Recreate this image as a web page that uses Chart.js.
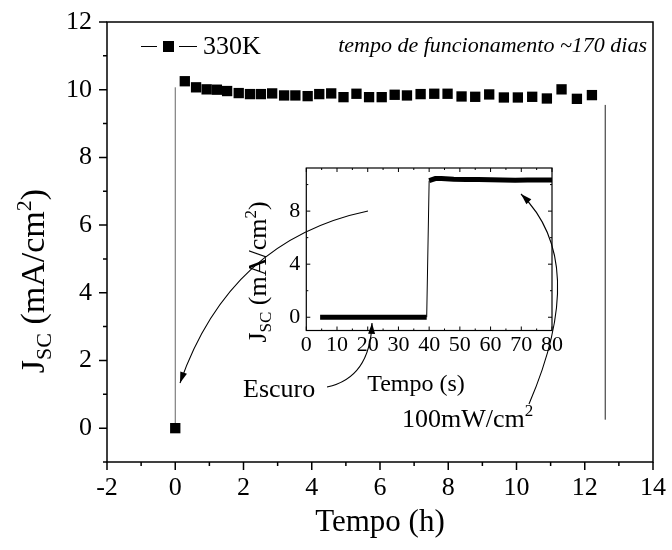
<!DOCTYPE html>
<html lang="pt">
<head>
<meta charset="UTF-8">
<title>Jsc em função do tempo</title>
<style>
  body { margin: 0; background: #fff; }
  #quadro { position: relative; width: 672px; height: 550px; }
  #quadro canvas { position: absolute; left: 0; top: 0; }
</style>
</head>
<body>
<div id="quadro">
  <canvas id="principal" width="672" height="550"></canvas>
  <canvas id="detalhe" width="672" height="550"></canvas>
</div>
<script src="https://cdn.jsdelivr.net/npm/chart.js"></script>
<script>
// dados do gráfico principal (tempo em horas)
const tempoH = [0, 0.28, 0.61, 0.92, 1.22, 1.52, 1.86, 2.19, 2.51, 2.84, 3.19, 3.52, 3.88, 4.22, 4.57, 4.93, 5.31,
  5.68, 6.05, 6.43, 6.79, 7.19, 7.59, 7.98, 8.39, 8.79, 9.20, 9.63, 10.04, 10.46, 10.89, 11.32, 11.77, 12.21];
const jscH = [0, 10.25, 10.07, 10.01, 10.00, 9.96, 9.90, 9.87, 9.87, 9.89, 9.83, 9.83, 9.81, 9.87, 9.89, 9.78, 9.88,
  9.78, 9.78, 9.85, 9.83, 9.87, 9.88, 9.88, 9.80, 9.79, 9.86, 9.77, 9.77, 9.79, 9.74, 10.01, 9.73, 9.84];
// linhas verticais de referência
const guiaEsqX = [0, 0];
const guiaEsqY = [0, 10.07];
const guiaDirX = [12.6, 12.6];
const guiaDirY = [0.25, 9.55];
// marcas dos eixos
const xTicksH = [-2, 0, 2, 4, 6, 8, 10, 12, 14];
const xMinorH = [-1, 1, 3, 5, 7, 9, 11, 13];
const yTicksH = [0, 2, 4, 6, 8, 10, 12];
const yMinorH = [-1, 1, 3, 5, 7, 9, 11];

// dados do detalhe (tempo em segundos)
const tempoS = [4.5, 10, 15, 20, 25, 30, 35, 39.2, 40, 42, 44, 48, 52, 56, 60, 64, 68, 72, 76, 80];
const jscS = [0, 0, 0, 0, 0, 0, 0, 0, 10.3, 10.45, 10.45, 10.4, 10.38, 10.38, 10.36, 10.35, 10.33, 10.35, 10.34, 10.35];
const xTicksS = [0, 10, 20, 30, 40, 50, 60, 70, 80];
const xMinorS = [5, 15, 25, 35, 45, 55, 65, 75];
const yTicksS = [0, 4, 8];
const yMinorS = [2, 6, 10];

const FAMILIA = '"Liberation Serif", "DejaVu Serif", serif';
Chart.defaults.font.family = FAMILIA;
Chart.defaults.color = '#000';

function pares(xs, ys) {
  return xs.map((x, i) => ({ x: x, y: ys[i] }));
}

// escreve texto com subscritos/sobrescritos: partes = [texto, tamanho, deslocamento]
function textoComposto(ctx, partes, x, y, centro) {
  let w = 0;
  partes.forEach(p => { ctx.font = p[1] + 'px ' + FAMILIA; w += ctx.measureText(p[0]).width; });
  let cx = centro ? x - w / 2 : x;
  ctx.textAlign = 'left';
  partes.forEach(p => {
    ctx.font = p[1] + 'px ' + FAMILIA;
    ctx.fillText(p[0], cx, y + p[2]);
    cx += ctx.measureText(p[0]).width;
  });
}

function seta(ctx, x0, y0, cx, cy, x1, y1) {
  ctx.beginPath();
  ctx.moveTo(x0, y0);
  ctx.quadraticCurveTo(cx, cy, x1, y1);
  ctx.stroke();
  const a = Math.atan2(y1 - cy, x1 - cx);
  const L = 11, W = 3.5;
  ctx.beginPath();
  ctx.moveTo(x1, y1);
  ctx.lineTo(x1 - L * Math.cos(a) + W * Math.sin(a), y1 - L * Math.sin(a) - W * Math.cos(a));
  ctx.lineTo(x1 - L * Math.cos(a) - W * Math.sin(a), y1 - L * Math.sin(a) + W * Math.cos(a));
  ctx.closePath();
  ctx.fill();
}

// marcas de escala: dir = +1 para fora, -1 para dentro
function marcas(ctx, escala, valores, comp, horizontal, base, dir) {
  ctx.beginPath();
  valores.forEach(v => {
    const p = escala.getPixelForValue(v);
    if (horizontal) { ctx.moveTo(p, base); ctx.lineTo(p, base + dir * comp); }
    else { ctx.moveTo(base, p); ctx.lineTo(base - dir * comp, p); }
  });
  ctx.stroke();
}

// tira o acolchoamento automático dos rótulos para controlar a área do gráfico
function semAcolchoamento(s) {
  s.paddingTop = 0; s.paddingBottom = 0; s.paddingLeft = 0; s.paddingRight = 0;
}

const extrasPrincipal = {
  id: 'extrasPrincipal',
  afterDraw(chart) {
    const ctx = chart.ctx, a = chart.chartArea;
    const sx = chart.scales.x, sy = chart.scales.y;
    ctx.save();
    ctx.strokeStyle = '#000';
    ctx.fillStyle = '#000';
    ctx.lineWidth = 1.5;
    ctx.strokeRect(a.left, a.top, a.right - a.left, a.bottom - a.top);
    marcas(ctx, sx, xTicksH, 8, true, a.bottom, 1);
    marcas(ctx, sx, xMinorH, 4, true, a.bottom, 1);
    marcas(ctx, sy, yTicksH, 8, false, a.left, 1);
    marcas(ctx, sy, yMinorH, 4, false, a.left, 1);

    // legenda
    ctx.lineWidth = 1;
    ctx.beginPath();
    ctx.moveTo(141, 46.5); ctx.lineTo(157, 46.5);
    ctx.moveTo(179, 46.5); ctx.lineTo(197, 46.5);
    ctx.stroke();
    ctx.fillRect(163, 41, 11, 11);
    ctx.textBaseline = 'middle';
    ctx.font = '26px ' + FAMILIA;
    ctx.textAlign = 'left';
    ctx.fillText('330K', 203, 47);

    ctx.font = 'italic 22px ' + FAMILIA;
    ctx.textAlign = 'right';
    ctx.fillText('tempo de funcionamento ~170 dias', 647, 46);

    // título do eixo x
    ctx.font = '31px ' + FAMILIA;
    ctx.textAlign = 'center';
    ctx.fillText('Tempo (h)', (a.left + a.right) / 2, 523);

    // título do eixo y
    ctx.textBaseline = 'alphabetic';
    ctx.translate(44, 281);
    ctx.rotate(-Math.PI / 2);
    textoComposto(ctx, [['J', 34, 0], ['SC', 22, 7], [' (mA/cm', 34, 0], ['2', 22, -13], [')', 34, 0]], 0, 0, true);
    ctx.restore();
  }
};

new Chart(document.getElementById('principal'), {
  type: 'line',
  data: {
    datasets: [
      {
        data: pares(tempoH, jscH), showLine: false, pointStyle: 'rect', pointRadius: 7.3,
        pointBorderWidth: 0, backgroundColor: '#000', borderColor: '#000', order: 1
      },
      {
        data: pares(guiaEsqX, guiaEsqY), borderColor: '#666', borderWidth: 1, pointRadius: 0, order: 2
      },
      {
        data: pares(guiaDirX, guiaDirY), borderColor: '#222', borderWidth: 1, pointRadius: 0, order: 2
      }
    ]
  },
  options: {
    responsive: false,
    animation: false,
    devicePixelRatio: 1,
    layout: { padding: { top: 22, right: 19, left: 0, bottom: 0 } },
    plugins: { legend: { display: false }, tooltip: { enabled: false } },
    scales: {
      x: {
        type: 'linear', min: -2, max: 14,
        grid: { display: false, drawTicks: false },
        border: { display: false },
        afterBuildTicks: s => { s.ticks = xTicksH.map(v => ({ value: v })); },
        afterFit: s => { s.height = 88; semAcolchoamento(s); },
        ticks: { font: { size: 26 }, color: '#000', padding: 11, maxRotation: 0, autoSkip: false }
      },
      y: {
        type: 'linear', min: -1, max: 12,
        grid: { display: false, drawTicks: false },
        border: { display: false },
        afterBuildTicks: s => { s.ticks = yTicksH.map(v => ({ value: v })); },
        afterFit: s => { s.width = 107; semAcolchoamento(s); },
        ticks: { font: { size: 26 }, color: '#000', padding: 15, autoSkip: false }
      }
    }
  },
  plugins: [extrasPrincipal]
});

const extrasDetalhe = {
  id: 'extrasDetalhe',
  afterDraw(chart) {
    const ctx = chart.ctx, a = chart.chartArea;
    const sx = chart.scales.x, sy = chart.scales.y;
    ctx.save();
    ctx.strokeStyle = '#000';
    ctx.fillStyle = '#000';
    ctx.lineWidth = 1.2;
    ctx.strokeRect(a.left, a.top, a.right - a.left, a.bottom - a.top);
    ctx.lineWidth = 1;
    marcas(ctx, sx, xTicksS, 4, true, a.bottom, -1);
    marcas(ctx, sx, xMinorS, 2, true, a.bottom, -1);
    marcas(ctx, sx, xTicksS, 4, true, a.top, 1);
    marcas(ctx, sx, xMinorS, 2, true, a.top, 1);
    marcas(ctx, sy, yTicksS, 4, false, a.left, -1);
    marcas(ctx, sy, yMinorS, 2, false, a.left, -1);
    marcas(ctx, sy, yTicksS, 4, false, a.right, 1);
    marcas(ctx, sy, yMinorS, 2, false, a.right, 1);

    ctx.textBaseline = 'middle';
    ctx.font = '24px ' + FAMILIA;
    ctx.textAlign = 'center';
    ctx.fillText('Tempo (s)', 416, 385);
    ctx.font = '26px ' + FAMILIA;
    ctx.textAlign = 'left';
    ctx.fillText('Escuro', 243, 390);
    ctx.textBaseline = 'alphabetic';
    textoComposto(ctx, [['100mW/cm', 26, 0], ['2', 17, -11]], 402, 427, false);

    // setas
    ctx.lineWidth = 1.1;
    seta(ctx, 327, 387, 370, 378, 372, 323);
    seta(ctx, 368, 211, 230, 240, 180, 383);
    seta(ctx, 529, 404, 590, 262, 521, 194);

    // título do eixo y do detalhe
    ctx.translate(266, 272);
    ctx.rotate(-Math.PI / 2);
    textoComposto(ctx, [['J', 26, 0], ['SC', 17, 5], [' (mA/cm', 26, 0], ['2', 17, -10], [')', 26, 0]], 0, 0, true);
    ctx.restore();
  }
};

new Chart(document.getElementById('detalhe'), {
  type: 'line',
  data: {
    datasets: [{
      data: pares(tempoS, jscS),
      borderColor: '#000', borderWidth: 5, borderCapStyle: 'butt', pointRadius: 0,
      segment: { borderWidth: c => Math.abs(c.p1.parsed.y - c.p0.parsed.y) > 3 ? 1 : 5 }
    }]
  },
  options: {
    responsive: false,
    animation: false,
    devicePixelRatio: 1,
    layout: { padding: { top: 168, right: 120, left: 0, bottom: 0 } },
    plugins: { legend: { display: false }, tooltip: { enabled: false } },
    scales: {
      x: {
        type: 'linear', min: 0, max: 80,
        grid: { display: false, drawTicks: false },
        border: { display: false },
        afterBuildTicks: s => { s.ticks = xTicksS.map(v => ({ value: v })); },
        afterFit: s => { s.height = 219.5; semAcolchoamento(s); },
        ticks: { font: { size: 22 }, color: '#000', padding: 2, maxRotation: 0, autoSkip: false }
      },
      y: {
        type: 'linear', min: -1, max: 11.25,
        grid: { display: false, drawTicks: false },
        border: { display: false },
        afterBuildTicks: s => { s.ticks = yTicksS.map(v => ({ value: v })); },
        afterFit: s => { s.width = 306.3; semAcolchoamento(s); },
        ticks: { font: { size: 22 }, color: '#000', padding: 6, autoSkip: false }
      }
    }
  },
  plugins: [extrasDetalhe]
});
</script>
</body>
</html>
